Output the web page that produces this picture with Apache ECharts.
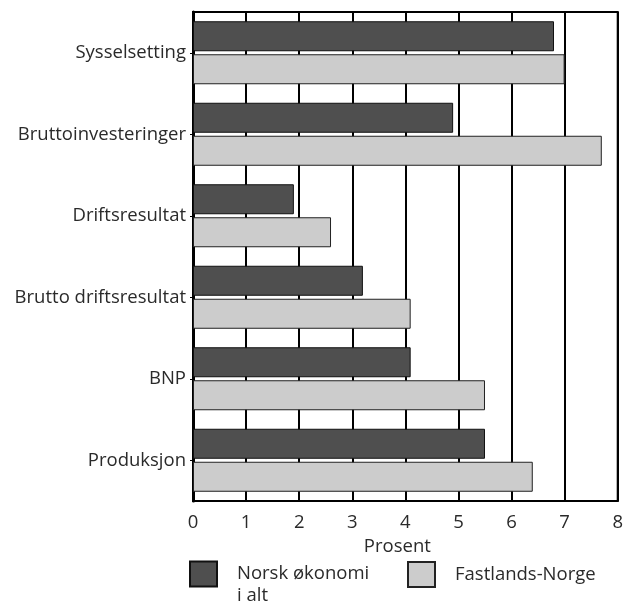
<!DOCTYPE html>
<html>
<head>
  <meta charset="UTF-8"/>
  <title></title>
  <script src="https://cdn.jsdelivr.net/npm/echarts@6/dist/echarts.min.js"></script>
  <style>
    html, body { margin: 0; padding: 0; background: #fff; }
  </style>
</head>
<body>
<div id="main" style="width: 626px;height: 606px;"></div>
<script type="text/javascript">
    // kategorier (ovenfra og ned)
    const categories = ['Sysselsetting', 'Bruttoinvesteringer', 'Driftsresultat', 'Brutto driftsresultat', 'BNP', 'Produksjon']
    const norskTotal = [6.8, 4.9, 1.9, 3.2, 4.1, 5.5]
    const fastland = [7.0, 7.7, 2.6, 4.1, 5.5, 6.4]
    const xTicks = [0, 1, 2, 3, 4, 5, 6, 7, 8]

    const font = '"Open Sans", "Noto Sans", sans-serif'
    const fs = 18.5
    const txt = '#2a2a2a'
    let myChart = echarts.init(document.getElementById('main'))
    let option = {
        animation: false,
        textStyle: {fontFamily: font},
        grid: {
            left: 193, right: 6, top: 12, bottom: 105,
            show: true,
            borderColor: '#000',
            borderWidth: 2
        },
        legend: [
            {
                data: ['Norsk økonomi i alt'],
                left: 189, top: 541,
                padding: 0,
                itemWidth: 27, itemHeight: 25,
                icon: 'rect',
                // tom første linje så første tekstlinje står midt for ikonet
                formatter: function () { return ' \nNorsk økonomi\ni alt' },
                textStyle: {fontSize: fs, color: txt, fontFamily: font, lineHeight: 22, padding: [0, 0, 0, 15]}
            },
            {
                data: ['Fastlands-Norge'],
                left: 407, top: 561,
                padding: 0,
                itemWidth: 27, itemHeight: 25,
                icon: 'rect',
                textStyle: {fontSize: fs, color: txt, fontFamily: font, padding: [0, 0, 0, 15]}
            }
        ],
        xAxis: {
            type: 'value',
            min: xTicks[0],
            max: xTicks[xTicks.length - 1],
            interval: 1,
            name: 'Prosent',
            nameLocation: 'middle',
            nameGap: 30,
            nameTextStyle: {fontSize: fs, color: txt, fontFamily: font, padding: [0, 16, 0, 0]},
            axisLine: {show: true, lineStyle: {color: '#000', width: 2}},
            axisTick: {show: false},
            axisLabel: {fontSize: fs, color: txt, margin: 12, fontFamily: font},
            splitLine: {show: true, lineStyle: {color: '#000', width: 2}}
        },
        yAxis: {
            type: 'category',
            inverse: true,
            data: categories,
            axisLine: {show: true, lineStyle: {color: '#000', width: 3}},
            axisTick: {show: true, length: 3, alignWithLabel: true, lineStyle: {color: '#000'}},
            axisLabel: {fontSize: fs, color: txt, margin: 7, fontFamily: font, padding: [6, 0, 0, 0]}
        },
        series: [
            {
                name: 'Norsk økonomi i alt',
                type: 'bar',
                data: norskTotal,
                barWidth: 30,
                barGap: '10%',
                itemStyle: {color: '#4f4f4f', borderColor: '#111', borderWidth: 1}
            },
            {
                name: 'Fastlands-Norge',
                type: 'bar',
                data: fastland,
                barWidth: 30,
                barGap: '10%',
                itemStyle: {color: '#cccccc', borderColor: '#222', borderWidth: 1}
            }
        ]
    };
    myChart.setOption(option);
</script>
</body>
</html>
